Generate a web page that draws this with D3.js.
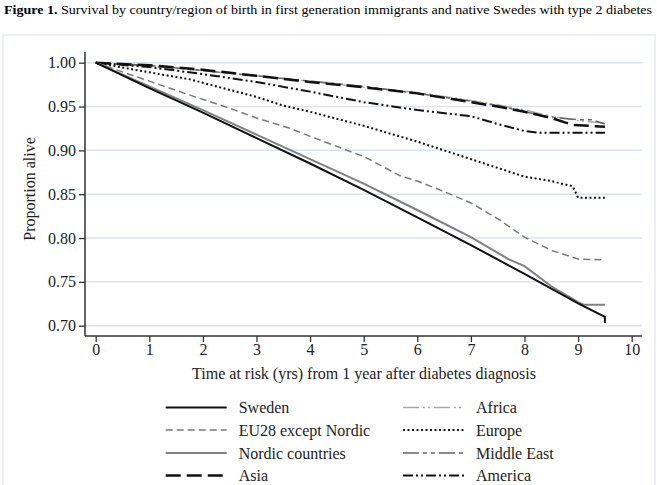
<!DOCTYPE html>
<html>
<head>
<meta charset="utf-8">
<script src="https://cdn.jsdelivr.net/npm/d3@7"></script>
<style>
  body { margin: 0; background: #fff; }
  svg { display: block; font-family: "Liberation Serif", "Times New Roman", serif; }
</style>
</head>
<body>
<div id="chart"></div>
<script>
// survival curves (time in years, proportion alive)
const swedenT = [0, 1, 2, 3, 4, 5, 6, 7, 8, 9, 9.5, 9.5]
const swedenV = [1, 0.971, 0.943, 0.914, 0.885, 0.855, 0.8235, 0.792, 0.759, 0.7255, 0.710, 0.703]

const nordicT = [0, 1, 2, 3, 4, 5, 6, 7, 7.7, 8, 8.5, 9, 9.1, 9.5]
const nordicV = [1, 0.973, 0.946, 0.918, 0.890, 0.862, 0.832, 0.801, 0.776, 0.768, 0.745, 0.727, 0.724, 0.724]

const eu28T = [0, 1, 1.76, 2.5, 3, 3.63, 4, 5, 5.68, 6, 6.5, 7, 7.5, 8, 8.5, 9, 9.5]
const eu28V = [1, 0.979, 0.963, 0.948, 0.937, 0.925, 0.916, 0.893, 0.871, 0.865, 0.853, 0.840, 0.822, 0.801, 0.786, 0.776, 0.775]

const europeT = [0, 1, 1.76, 2, 3, 3.5, 4, 5, 6, 7, 7.5, 8, 8.5, 8.9, 9, 9.5]
const europeV = [1, 0.989, 0.981, 0.977, 0.961, 0.951, 0.944, 0.928, 0.910, 0.890, 0.880, 0.870, 0.865, 0.859, 0.846, 0.846]

const americaT = [0, 1, 2, 3, 4, 5, 6, 7, 7.5, 8, 8.3, 9.5]
const americaV = [1, 0.995, 0.987, 0.978, 0.967, 0.955, 0.946, 0.939, 0.930, 0.922, 0.920, 0.920]

const asiaT = [0, 1, 2, 3, 4, 5, 6, 7, 7.5, 8, 8.5, 8.9, 9.5]
const asiaV = [1, 0.997, 0.992, 0.985, 0.978, 0.972, 0.965, 0.955, 0.950, 0.944, 0.937, 0.929, 0.927]

const mideastT = [0, 1, 2, 3, 4, 5, 6, 7, 7.5, 8, 8.5, 9, 9.25, 9.5]
const mideastV = [1, 0.997, 0.991, 0.985, 0.979, 0.973, 0.965, 0.956, 0.951, 0.944, 0.938, 0.935, 0.935, 0.930]

const africaT = [0, 1, 2, 3, 4, 5, 6, 7, 7.5, 8, 8.5, 9, 9.5]
const africaV = [1, 0.996, 0.991, 0.985, 0.979, 0.972, 0.966, 0.957, 0.952, 0.946, 0.939, 0.934, 0.931]

const xTicks = [0, 1, 2, 3, 4, 5, 6, 7, 8, 9, 10]
const yTicks = [0.70, 0.75, 0.80, 0.85, 0.90, 0.95, 1.00]

const width = 657
const height = 485

// series styles + legend order (two columns)
const series = [
  {name: "Sweden", t: swedenT, v: swedenV, color: "#111", w: 2, dash: null, col: 0, row: 0},
  {name: "EU28 except Nordic", t: eu28T, v: eu28V, color: "#7a7a7a", w: 1.5, dash: "7,4", col: 0, row: 1},
  {name: "Nordic countries", t: nordicT, v: nordicV, color: "#808080", w: 2, dash: null, col: 0, row: 2},
  {name: "Asia", t: asiaT, v: asiaV, color: "#111", w: 2.5, dash: "15,6", col: 0, row: 3},
  {name: "Africa", t: africaT, v: africaV, color: "#aaa", w: 1.5, dash: "16,4,2,3,2,4", col: 1, row: 0},
  {name: "Europe", t: europeT, v: europeV, color: "#111", w: 2, dash: "2,2.5", col: 1, row: 1},
  {name: "Middle East", t: mideastT, v: mideastV, color: "#666", w: 1.5, dash: "16,4,4,4,4,4", col: 1, row: 2},
  {name: "America", t: americaT, v: americaV, color: "#111", w: 2, dash: "10,3,2,3,2,3", col: 1, row: 3}
]

let svg = d3.select("#chart")
  .append("svg")
  .attr("width", width)
  .attr("height", height)

// title
let title = svg.append("text")
  .attr("x", 4)
  .attr("y", 14)
  .attr("font-size", 12)
  .attr("textLength", 648)
  .attr("lengthAdjust", "spacingAndGlyphs")
title.append("tspan").attr("font-weight", "bold").text("Figure 1.")
title.append("tspan").text("  Survival by country/region of birth in first generation immigrants and native Swedes with type 2 diabetes")

// light outer frame
svg.append("rect")
  .attr("x", 3).attr("y", 35)
  .attr("width", 652).attr("height", 470)
  .attr("fill", "none")
  .attr("stroke", "#e6eaf3")
  .attr("stroke-width", 1.5)

let scaleX = d3.scaleLinear().domain([0, 10]).range([95.7, 631.7])
let scaleY = d3.scaleLinear().domain([0.70, 1.00]).range([325.7, 62.7])

const axisLeftX = 85
const axisBottomY = 336
const axisRight = 642

// gridlines
svg.append("g")
  .selectAll("line")
  .data(yTicks)
  .enter()
  .append("line")
  .attr("x1", axisLeftX)
  .attr("x2", axisRight)
  .attr("y1", d => scaleY(d))
  .attr("y2", d => scaleY(d))
  .attr("stroke", "#dbe2f0")
  .attr("stroke-width", 1.5)

// y axis
let yAxis = d3.axisLeft(scaleY)
  .tickValues(yTicks)
  .tickFormat(d3.format(".2f"))
  .tickSize(6)
  .tickPadding(3)
let gy = svg.append("g")
  .attr("transform", "translate(" + axisLeftX + ",0)")
  .call(yAxis)
gy.select(".domain").remove()
gy.selectAll("line").attr("stroke", "#333").attr("stroke-width", 1.3)
gy.selectAll("text").attr("font-size", 16).attr("font-family", "Liberation Serif").attr("fill", "#222")

// x axis
let xAxis = d3.axisBottom(scaleX)
  .tickValues(xTicks)
  .tickFormat(d3.format("d"))
  .tickSize(6)
  .tickPadding(2)
let gx = svg.append("g")
  .attr("transform", "translate(0," + axisBottomY + ")")
  .call(xAxis)
gx.select(".domain").remove()
gx.selectAll("line").attr("stroke", "#333").attr("stroke-width", 1.3)
gx.selectAll("text").attr("font-size", 16).attr("font-family", "Liberation Serif").attr("fill", "#222")

// axis lines
svg.append("line")
  .attr("x1", axisLeftX).attr("x2", axisLeftX)
  .attr("y1", 52).attr("y2", axisBottomY)
  .attr("stroke", "#333").attr("stroke-width", 1.5)
svg.append("line")
  .attr("x1", axisLeftX).attr("x2", axisRight)
  .attr("y1", axisBottomY).attr("y2", axisBottomY)
  .attr("stroke", "#333").attr("stroke-width", 1.5)

// axis titles
svg.append("text")
  .attr("x", 364).attr("y", 379)
  .attr("text-anchor", "middle")
  .attr("font-size", 16)
  .attr("fill", "#222")
  .text("Time at risk (yrs) from 1 year after diabetes diagnosis")
svg.append("text")
  .attr("transform", "translate(35,189) rotate(-90)")
  .attr("text-anchor", "middle")
  .attr("font-size", 16)
  .attr("fill", "#222")
  .text("Proportion alive")

// curves
let line = d3.line()
  .x(d => scaleX(d[0]))
  .y(d => scaleY(d[1]))

let drawOrder = ["Africa", "Middle East", "Asia", "America", "Europe", "EU28 except Nordic", "Nordic countries", "Sweden"]
drawOrder.forEach(name => {
  let s = series.find(d => d.name == name)
  let pts = s.t.map((t, i) => [t, s.v[i]])
  svg.append("path")
    .datum(pts)
    .attr("d", line)
    .attr("fill", "none")
    .attr("stroke", s.color)
    .attr("stroke-width", s.w)
    .attr("stroke-dasharray", s.dash)
})

// legend
const legendCols = [165.7, 403]
const legendRowY = [407.5, 430, 453, 475.5]
let legend = svg.append("g")
series.forEach(s => {
  let x0 = legendCols[s.col]
  let y0 = legendRowY[s.row]
  legend.append("line")
    .attr("x1", x0).attr("x2", x0 + 61)
    .attr("y1", y0).attr("y2", y0)
    .attr("stroke", s.color)
    .attr("stroke-width", s.w)
    .attr("stroke-dasharray", s.dash)
  legend.append("text")
    .attr("x", x0 + 73)
    .attr("y", y0 + 5.5)
    .attr("font-size", 16)
    .attr("fill", "#222")
    .text(s.name)
})
</script>
</body>
</html>
